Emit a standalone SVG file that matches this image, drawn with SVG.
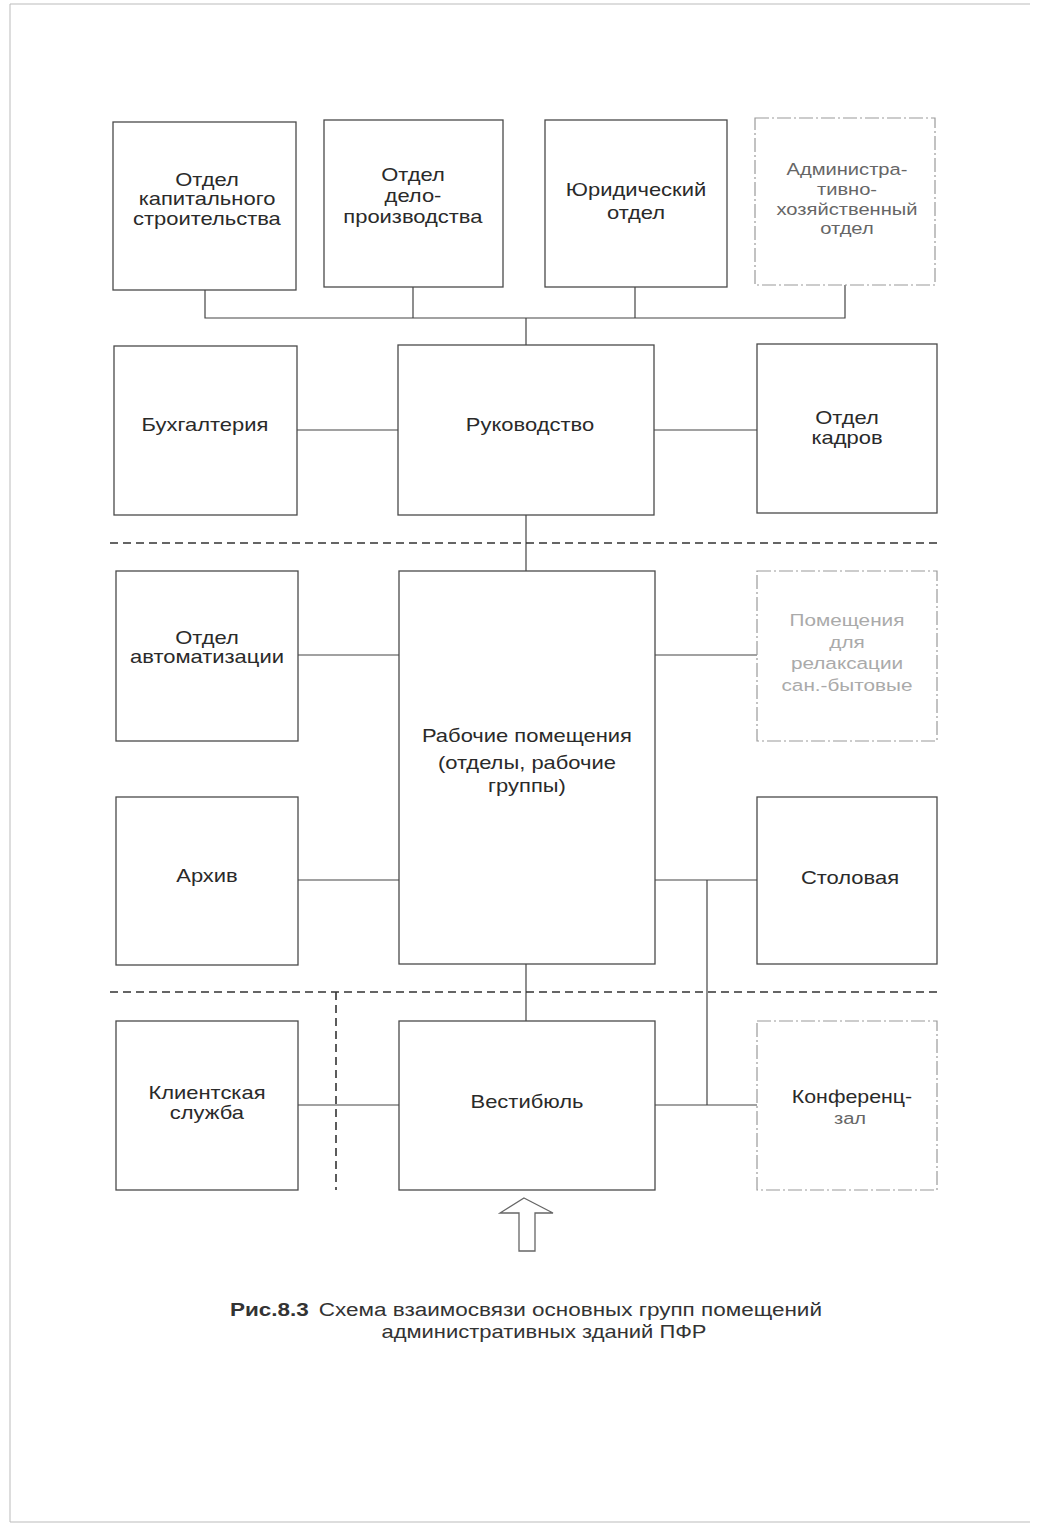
<svg xmlns="http://www.w3.org/2000/svg" width="1038" height="1526" viewBox="0 0 1038 1526">
<style>
.box{fill:none;stroke:#4a4a4a;stroke-width:1.3}
.faint{fill:none;stroke:#9a9a9a;stroke-width:1.2;stroke-dasharray:14 3 2 3}
.t,.tf,.tv,.cap{font-family:"Liberation Sans",Arial,sans-serif;text-anchor:middle;transform-box:fill-box;transform-origin:center;transform:scaleX(1.22)}
.t{font-size:18px;fill:#2a2a2a}
.tf{font-size:16.5px;fill:#666}
.tv{font-size:17px;fill:#aaa}
.cap{font-size:18px;fill:#333;transform:scaleX(1.25)}
.c{fill:none;stroke:#444;stroke-width:1.2}
.sep{fill:none;stroke:#333;stroke-width:1.6;stroke-dasharray:8 5}
</style>
<rect width="1038" height="1526" fill="#ffffff"/>
<g id="page" fill="none" stroke="#bbb" stroke-width="1">
<line x1="10" y1="4" x2="1030" y2="4"/>
<line x1="10" y1="4" x2="10" y2="1522"/>
<line x1="10" y1="1522" x2="1030" y2="1522"/>
</g>
<g id="connectors">
<polyline class="c" points="205,290 205,318 845,318 845,285"/>
<line class="c" x1="413" y1="287" x2="413" y2="318"/>
<line class="c" x1="635" y1="287" x2="635" y2="318"/>
<line class="c" x1="526" y1="318" x2="526" y2="345"/>
<line class="c" x1="297" y1="430" x2="398" y2="430"/>
<line class="c" x1="654" y1="430" x2="757" y2="430"/>
<line class="c" x1="526" y1="515" x2="526" y2="571"/>
<line class="c" x1="298" y1="655" x2="399" y2="655"/>
<line class="c" x1="655" y1="655" x2="757" y2="655"/>
<line class="c" x1="298" y1="880" x2="399" y2="880"/>
<line class="c" x1="655" y1="880" x2="757" y2="880"/>
<line class="c" x1="707" y1="880" x2="707" y2="1105"/>
<line class="c" x1="655" y1="1105" x2="757" y2="1105"/>
<line class="c" x1="526" y1="964" x2="526" y2="1021"/>
<line class="c" x1="298" y1="1105" x2="399" y2="1105"/>
<line class="sep" x1="110" y1="543" x2="940" y2="543"/>
<line class="sep" x1="110" y1="992" x2="940" y2="992"/>
<line class="sep" x1="336" y1="992" x2="336" y2="1190" stroke-width="1.3" stroke-dasharray="6 4"/>
</g>
<g id="n1"><rect class="box" x="113" y="122" width="183" height="168"/>
<text class="t" x="207" y="186">Отдел</text><text class="t" x="207" y="205">капитального</text><text class="t" x="207" y="225">строительства</text></g>
<g id="n2"><rect class="box" x="324" y="120" width="179" height="167"/>
<text class="t" x="413" y="181">Отдел</text><text class="t" x="413" y="202">дело-</text><text class="t" x="413" y="223">производства</text></g>
<g id="n3"><rect class="box" x="545" y="120" width="182" height="167"/>
<text class="t" x="636" y="196">Юридический</text><text class="t" x="636" y="219">отдел</text></g>
<g id="n4"><rect class="faint" x="755" y="118" width="180" height="167"/>
<text class="tf" x="847" y="175">Администра-</text><text class="tf" x="847" y="195">тивно-</text><text class="tf" x="847" y="215">хозяйственный</text><text class="tf" x="847" y="234">отдел</text></g>
<g id="n5"><rect class="box" x="114" y="346" width="183" height="169"/>
<text class="t" x="205" y="431">Бухгалтерия</text></g>
<g id="n6"><rect class="box" x="398" y="345" width="256" height="170"/>
<text class="t" x="530" y="431">Руководство</text></g>
<g id="n7"><rect class="box" x="757" y="344" width="180" height="169"/>
<text class="t" x="847" y="424">Отдел</text><text class="t" x="847" y="444">кадров</text></g>
<g id="n8"><rect class="box" x="116" y="571" width="182" height="170"/>
<text class="t" x="207" y="644">Отдел</text><text class="t" x="207" y="663">автоматизации</text></g>
<g id="n9"><rect class="box" x="399" y="571" width="256" height="393"/>
<text class="t" x="527" y="742">Рабочие помещения</text><text class="t" x="527" y="769">(отделы, рабочие</text><text class="t" x="527" y="792">группы)</text></g>
<g id="n10"><rect class="faint" x="757" y="571" width="180" height="170" stroke="#c4c4c4"/>
<text class="tv" x="847" y="626">Помещения</text><text class="tv" x="847" y="648">для</text><text class="tv" x="847" y="669">релаксации</text><text class="tv" x="847" y="691">сан.-бытовые</text></g>
<g id="n11"><rect class="box" x="116" y="797" width="182" height="168"/>
<text class="t" x="207" y="882">Архив</text></g>
<g id="n12"><rect class="box" x="757" y="797" width="180" height="167"/>
<text class="t" x="850" y="884">Столовая</text></g>
<g id="n13"><rect class="box" x="116" y="1021" width="182" height="169"/>
<text class="t" x="207" y="1099">Клиентская</text><text class="t" x="207" y="1119">служба</text></g>
<g id="n14"><rect class="box" x="399" y="1021" width="256" height="169"/>
<text class="t" x="527" y="1108">Вестибюль</text></g>
<g id="n15"><rect class="faint" x="757" y="1021" width="180" height="169"/>
<text class="t" x="852" y="1103" style="font-size:17.5px">Конференц-</text><text class="tf" x="850" y="1124">зал</text></g>
<g id="arrow"><polygon points="524,1198 553,1213 535,1213 535,1251 519,1251 519,1213 500,1213" fill="none" stroke="#666" stroke-width="1.3"/></g>
<g id="caption">
<text class="cap" x="526" y="1316"><tspan font-weight="bold">Рис.8.3</tspan><tspan dx="8">Схема взаимосвязи основных групп помещений</tspan></text>
<text class="cap" x="544" y="1338" style="transform:scaleX(1.22)">административных зданий ПФР</text>
</g>
</svg>
